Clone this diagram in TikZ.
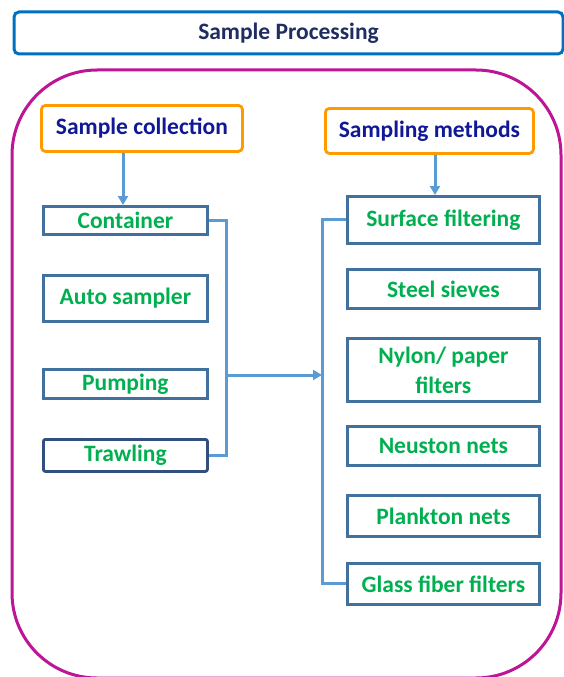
\documentclass[tikz,border=0pt]{standalone}
\usepackage{fontspec}
\setmainfont{Carlito}
\usetikzlibrary{arrows.meta}
\definecolor{topblue}{RGB}{0,112,192}
\definecolor{navy}{RGB}{31,45,96}
\definecolor{hdrtxt}{RGB}{16,24,150}
\definecolor{mag}{RGB}{190,20,150}
\definecolor{orng}{RGB}{255,155,0}
\definecolor{slate}{RGB}{65,113,156}
\definecolor{darkslate}{RGB}{50,80,125}
\definecolor{lblue}{RGB}{91,155,213}
\definecolor{grn}{RGB}{0,176,80}
\tikzset{
  leafbox/.style={draw=slate, line width=2.8pt, fill=white, text=grn, font=\bfseries\fontsize{23.5}{30}\selectfont, align=center, inner sep=0pt, anchor=north west},
  hdrbox/.style={draw=orng, line width=2.8pt, rounded corners=4pt, fill=white, text=hdrtxt, font=\bfseries\fontsize{23.5}{28}\selectfont, inner sep=0pt, anchor=north west},
  conn/.style={draw=lblue, line width=3pt},
  arr/.style={conn, -{Triangle[length=9pt,width=10pt]}}
}
\begin{document}
\begin{tikzpicture}[x=1pt,y=-1pt]
\useasboundingbox (0,0) rectangle (564,677);
% top box
\node[draw=topblue, line width=3pt, rounded corners=5pt, fill=white, text=navy, font=\bfseries\fontsize{23.5}{28}\selectfont, minimum width=549pt, minimum height=42pt, inner sep=0pt, anchor=north west] (top) at (12.5,10.5) {Sample Processing};
% magenta container
\begin{scope}
\clip (0,0) rectangle (564,677);
\draw[mag, line width=3pt, rounded corners=85pt] (12,70) rectangle (561,678);
\end{scope}
% headers
\node[hdrbox, minimum width=201pt, minimum height=46pt] (sc) at (40,104) {Sample collection};
\node[hdrbox, minimum width=208pt, minimum height=45pt] (sm) at (324,107) {Sampling methods};
% left boxes
\node[leafbox, minimum width=164pt, minimum height=28pt] (cont) at (42,205) {Container};
\node[leafbox, minimum width=164pt, minimum height=46pt] (auto) at (42,274) {Auto sampler};
\node[leafbox, minimum width=164pt, minimum height=29pt] (pump) at (42,368) {Pumping};
\node[leafbox, draw=darkslate, rounded corners=2pt, minimum width=164pt, minimum height=32pt] (trawl) at (42,438) {Trawling};
% right boxes
\node[leafbox, minimum width=192pt, minimum height=47pt] (surf) at (346,195) {Surface filtering};
\node[leafbox, minimum width=192pt, minimum height=39pt] (steel) at (346,268) {Steel sieves};
\node[leafbox, minimum width=192pt, minimum height=63pt] (nylon) at (346,337) {Nylon/ paper\\filters};
\node[leafbox, minimum width=192pt, minimum height=39pt] (neus) at (346,425) {Neuston nets};
\node[leafbox, minimum width=192pt, minimum height=41pt] (plank) at (346,494) {Plankton nets};
\node[leafbox, minimum width=192pt, minimum height=41pt] (glass) at (346,562) {Glass fiber filters};
% connectors
\draw[arr] (sc.south -| 123,0) -- (cont.north -| 123,0);
\draw[arr] (sm.south -| 435,0) -- (surf.north -| 435,0);
\coordinate (lj) at (226,375);
\coordinate (rj) at (322,375);
\draw[conn] (cont.east) -- (cont.east -| lj) -- (trawl.east -| lj) -- (trawl.east);
\draw[arr] (lj) -- (rj);
\draw[conn] (surf.west) -- (surf.west -| rj) -- (glass.west -| rj) -- (glass.west);
\end{tikzpicture}
\end{document}
